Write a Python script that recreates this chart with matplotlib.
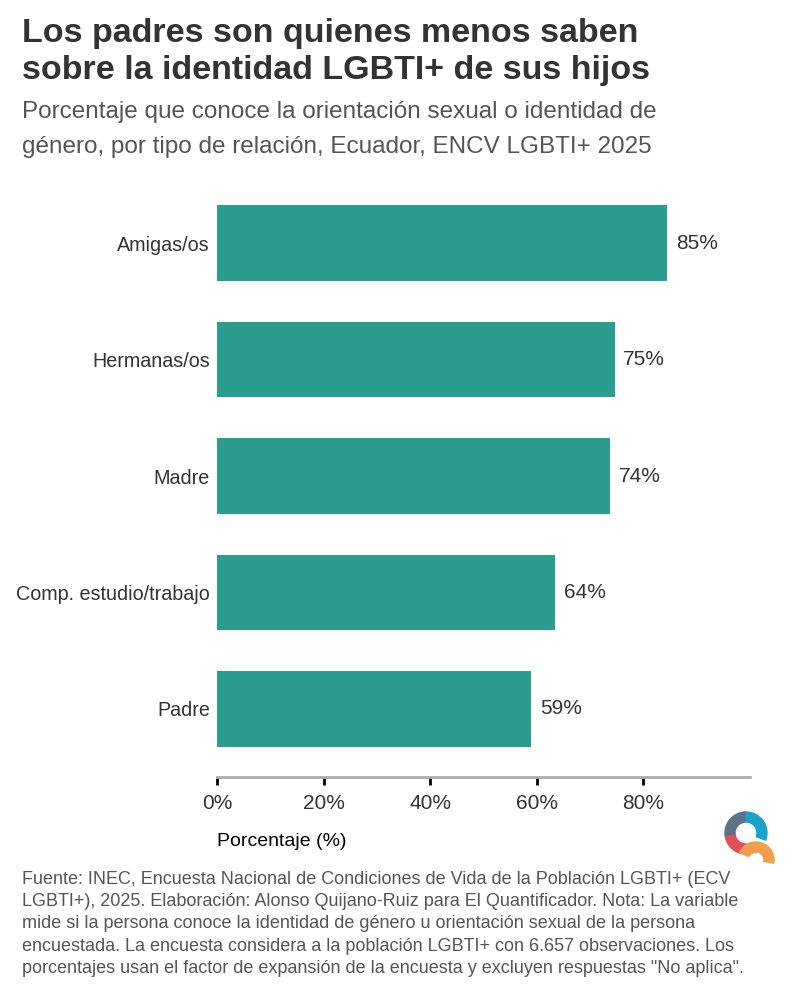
import matplotlib.pyplot as plt
from matplotlib.patches import Wedge

plt.rcParams['font.family'] = ['Liberation Sans', 'DejaVu Sans']

# data
categories = ["Amigas/os", "Hermanas/os", "Madre", "Comp. estudio/trabajo", "Padre"]
values = [84.5, 74.6, 73.8, 63.5, 59.0]
value_labels = ["85%", "75%", "74%", "64%", "59%"]
xticks = [0, 20, 40, 60, 80]
xtick_labels = ["0%", "20%", "40%", "60%", "80%"]

bar_color = "#2a9d8f"
text_dark = "#333333"

fig = plt.figure(figsize=(8, 10), dpi=100)
ax = fig.add_axes([0.27125, 0.223, 0.66625, 0.592])

ypos = list(range(len(categories)))[::-1]
ax.barh(ypos, values, height=0.65, color=bar_color)
for y, v, lab in zip(ypos, values, value_labels):
    ax.text(v + 1.6, y, lab, va="center", ha="left", fontsize=15, color=text_dark)

ax.set_xlim(0, 100)
ax.set_ylim(-0.585, 4.5)
ax.set_yticks(ypos)
ax.set_yticklabels(categories, fontsize=14.2, color=text_dark)
ax.tick_params(axis="y", length=0, pad=5)
ax.set_xticks(xticks)
ax.set_xticklabels(xtick_labels, fontsize=15, color=text_dark)
ax.tick_params(axis="x", length=6, width=2, color="black", pad=6)

for s in ["top", "right", "left"]:
    ax.spines[s].set_visible(False)
ax.spines["bottom"].set_color("#aaaaaa")
ax.spines["bottom"].set_linewidth(2)

fig.text(0.2713, 0.158, "Porcentaje (%)", fontsize=14, color="black", va="center")

# titles
fig.text(0.027, 0.982, "Los padres son quienes menos saben\nsobre la identidad LGBTI+ de sus hijos",
         fontsize=24.5, fontweight="bold", color=text_dark, va="top", linespacing=1.26)
fig.text(0.027, 0.899, "Porcentaje que conoce la orientación sexual o identidad de\n"
         "género, por tipo de relación, Ecuador, ENCV LGBTI+ 2025",
         fontsize=17.5, color="#555555", va="top", linespacing=1.75)

caption = ("Fuente: INEC, Encuesta Nacional de Condiciones de Vida de la Población LGBTI+ (ECV\n"
           "LGBTI+), 2025. Elaboración: Alonso Quijano-Ruiz para El Quantificador. Nota: La variable\n"
           "mide si la persona conoce la identidad de género u orientación sexual de la persona\n"
           "encuestada. La encuesta considera a la población LGBTI+ con 6.657 observaciones. Los\n"
           "porcentajes usan el factor de expansión de la encuesta y excluyen respuestas \"No aplica\".")
fig.text(0.027, 0.129, caption, fontsize=13, color="#555555", va="top", linespacing=1.40)

# logo, drawn in pixel coordinates
lax = fig.add_axes([0, 0, 1, 1], zorder=-1)
lax.set_xlim(0, 800)
lax.set_ylim(0, 1000)
lax.axis("off")
cx, cy, r, w = 746, 1000 - 833, 21, 10
lax.add_patch(Wedge((cx, cy), r, 90, 190, width=w, color="#5b7389"))
lax.add_patch(Wedge((cx, cy), r, -20, 90, width=w, color="#1aa3c8"))
lax.add_patch(Wedge((cx, cy), r, 190, 300, width=w, color="#e0505a"))
lax.add_patch(Wedge((756, 1000 - 860), 18, -10, 155, width=10, color="#f0a04b"))

fig.savefig("out.png", dpi=100)
